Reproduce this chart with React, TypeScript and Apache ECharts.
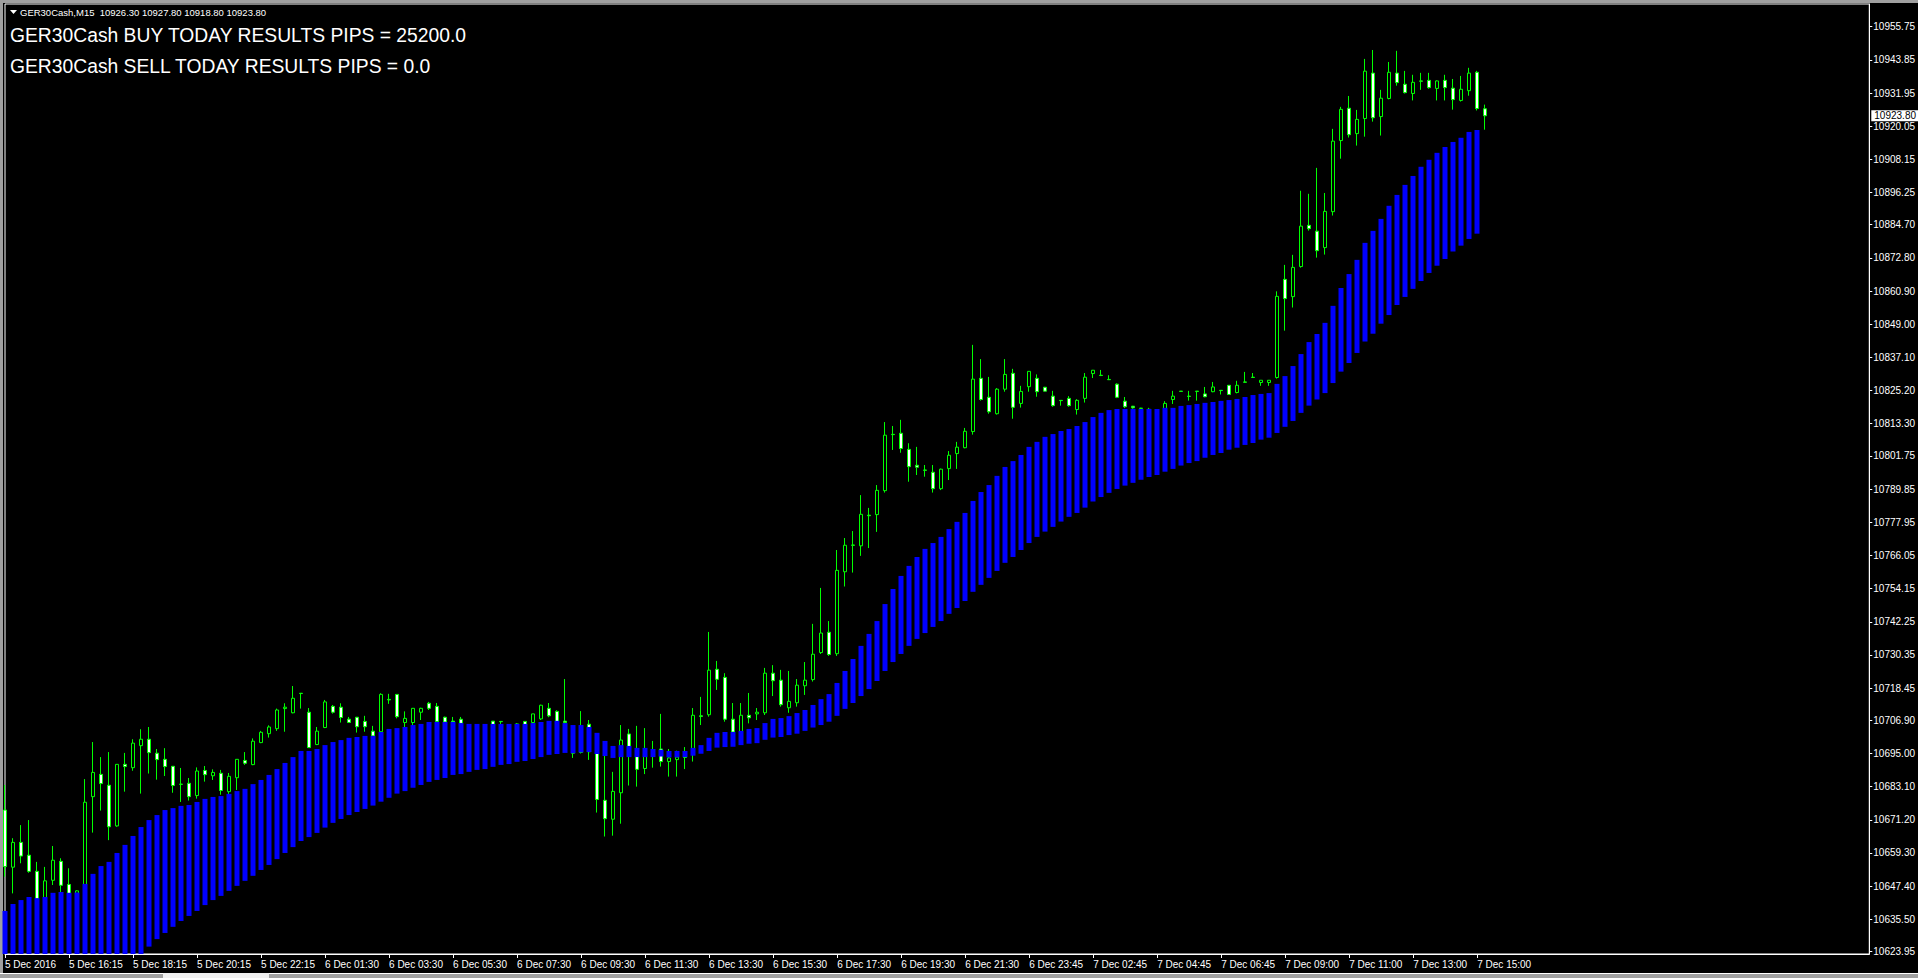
import React, { useEffect, useRef } from "react";
import * as echarts from "echarts";

const SYMBOL = "GER30Cash,M15";
const HEADER_OHLC = ["10926.30", "10927.80", "10918.80", "10923.80"];
const TITLE_BUY = "GER30Cash BUY TODAY RESULTS PIPS = 25200.0";
const TITLE_SELL = "GER30Cash SELL TODAY RESULTS PIPS = 0.0";
const CURRENT_PRICE = 10923.8;

const X_TICK_LABELS = [
  "5 Dec 2016", "5 Dec 16:15", "5 Dec 18:15", "5 Dec 20:15", "5 Dec 22:15",
  "6 Dec 01:30", "6 Dec 03:30", "6 Dec 05:30", "6 Dec 07:30", "6 Dec 09:30",
  "6 Dec 11:30", "6 Dec 13:30", "6 Dec 15:30", "6 Dec 17:30", "6 Dec 19:30",
  "6 Dec 21:30", "6 Dec 23:45", "7 Dec 02:45", "7 Dec 04:45", "7 Dec 06:45",
  "7 Dec 09:00", "7 Dec 11:00", "7 Dec 13:00", "7 Dec 15:00",
];
const BARS_PER_LABEL = 8;
const TOTAL_SLOTS = 234;

const Y_TICKS = [
  10955.75, 10943.85, 10931.95, 10920.05, 10908.15, 10896.25, 10884.7, 10872.8,
  10860.9, 10849.0, 10837.1, 10825.2, 10813.3, 10801.75, 10789.85, 10777.95,
  10766.05, 10754.15, 10742.25, 10730.35, 10718.45, 10706.9, 10695.0, 10683.1,
  10671.2, 10659.3, 10647.4, 10635.5, 10623.95,
];
const Y_MIN = 10623.05;
const Y_MAX = 10963.9;

const OPEN = [
  10674.7, 10654.2, 10663.1, 10658.5, 10652.7, 10640.0, 10649.5, 10656.3, 10648.0, 10644.8,
  10644.8, 10679.5, 10687.5, 10683.6, 10669.0, 10691.1, 10689.9, 10697.8, 10700.1, 10695.1,
  10692.9, 10690.4, 10683.9, 10684.3, 10679.9, 10688.9, 10687.0, 10687.9, 10681.3, 10686.3,
  10692.5, 10691.0, 10698.9, 10702.1, 10703.9, 10711.1, 10709.6, 10716.6, 10709.8, 10698.2,
  10704.3, 10711.9, 10711.6, 10707.3, 10708.0, 10706.5, 10703.0, 10702.8, 10714.4, 10716.2,
  10706.1, 10706.1, 10709.8, 10713.0, 10711.9, 10708.0, 10706.6, 10707.3, 10705.2, 10703.5,
  10704.2, 10706.6, 10706.5, 10704.8, 10705.2, 10706.5, 10706.1, 10707.4, 10711.2, 10710.1,
  10706.6, 10699.8, 10701.0, 10705.5, 10699.8, 10678.2, 10671.4, 10680.9, 10702.0, 10695.1,
  10689.6, 10694.0, 10696.6, 10692.1, 10692.8, 10693.7, 10695.1, 10708.5, 10708.9, 10725.2,
  10722.3, 10707.3, 10701.0, 10708.7, 10709.2, 10709.6, 10723.8, 10721.3, 10711.4, 10713.2,
  10719.3, 10721.5, 10731.2, 10738.5, 10730.8, 10760.2, 10769.8, 10769.5, 10780.5, 10780.7,
  10789.3, 10809.5, 10809.9, 10804.1, 10798.4, 10796.7, 10795.9, 10790.0, 10797.2, 10802.6,
  10804.7, 10810.5, 10829.6, 10822.8, 10816.9, 10825.7, 10831.4, 10820.6, 10826.6, 10829.6,
  10826.4, 10823.2, 10821.7, 10822.4, 10818.4, 10822.4, 10831.3, 10830.7, 10829.2, 10827.5,
  10821.4, 10819.6, 10818.9, 10818.0, 10818.2, 10818.7, 10822.0, 10825.0, 10823.2, 10825.0,
  10824.0, 10824.8, 10825.3, 10827.1, 10824.5, 10828.3, 10830.0, 10828.1, 10828.1, 10829.9,
  10865.1, 10858.9, 10869.7, 10884.5, 10882.4, 10876.5, 10889.4, 10914.9, 10926.5, 10917.4,
  10922.8, 10939.1, 10923.5, 10930.0, 10939.1, 10935.1, 10931.8, 10936.3, 10936.5, 10933.6,
  10936.5, 10933.7, 10929.3, 10932.8, 10939.4, 10926.3,
];
const HIGH = [
  10683.7, 10664.6, 10669.3, 10671.1, 10656.1, 10654.3, 10661.8, 10657.4, 10653.8, 10645.9,
  10685.8, 10699.1, 10693.7, 10695.5, 10691.2, 10695.2, 10700.1, 10703.7, 10704.5, 10696.6,
  10696.9, 10690.5, 10689.8, 10686.2, 10690.0, 10690.5, 10689.3, 10689.1, 10688.0, 10693.0,
  10695.5, 10700.4, 10703.1, 10705.1, 10711.1, 10713.0, 10719.2, 10716.7, 10711.3, 10704.5,
  10714.2, 10712.4, 10713.0, 10708.1, 10708.1, 10708.5, 10704.9, 10716.6, 10716.4, 10716.3,
  10710.1, 10711.3, 10711.4, 10713.5, 10713.1, 10708.2, 10708.1, 10708.1, 10705.4, 10705.0,
  10705.2, 10706.6, 10706.5, 10705.5, 10705.9, 10706.5, 10709.2, 10712.5, 10713.1, 10710.5,
  10721.7, 10703.4, 10710.2, 10707.0, 10701.6, 10694.1, 10688.4, 10705.2, 10703.8, 10704.9,
  10704.1, 10699.5, 10709.2, 10696.6, 10696.0, 10697.3, 10711.3, 10715.3, 10738.6, 10728.2,
  10723.8, 10713.1, 10713.1, 10716.7, 10711.3, 10725.7, 10726.7, 10725.0, 10724.6, 10721.7,
  10727.8, 10741.5, 10754.4, 10742.5, 10768.0, 10772.3, 10774.8, 10787.7, 10783.1, 10791.3,
  10813.9, 10812.5, 10814.7, 10806.3, 10805.0, 10798.5, 10798.5, 10797.2, 10803.5, 10806.8,
  10811.8, 10841.6, 10836.5, 10830.1, 10826.1, 10836.5, 10833.0, 10826.9, 10832.2, 10831.0,
  10826.5, 10825.1, 10821.8, 10823.2, 10822.1, 10831.5, 10832.6, 10832.6, 10830.7, 10827.8,
  10822.9, 10819.7, 10819.0, 10819.0, 10818.4, 10821.4, 10825.1, 10825.0, 10825.1, 10825.0,
  10826.5, 10828.3, 10825.3, 10827.1, 10828.7, 10831.9, 10831.5, 10828.9, 10828.9, 10860.8,
  10870.3, 10873.9, 10896.9, 10895.8, 10905.1, 10896.1, 10919.1, 10927.0, 10930.9, 10925.9,
  10944.2, 10947.4, 10933.1, 10943.1, 10947.1, 10939.9, 10938.5, 10939.2, 10939.2, 10936.5,
  10938.5, 10937.0, 10938.1, 10941.0, 10939.9, 10927.8,
];
const LOW = [
  10650.8, 10644.8, 10655.6, 10652.2, 10638.8, 10637.6, 10647.8, 10645.3, 10642.4, 10643.0,
  10642.4, 10666.6, 10674.5, 10663.9, 10668.7, 10681.3, 10688.8, 10680.6, 10687.8, 10685.6,
  10686.9, 10680.9, 10677.6, 10678.1, 10678.8, 10684.9, 10685.5, 10680.2, 10680.5, 10681.9,
  10690.9, 10690.8, 10698.7, 10700.7, 10703.1, 10702.8, 10709.4, 10711.1, 10697.0, 10698.0,
  10704.1, 10709.3, 10706.1, 10706.0, 10702.5, 10702.8, 10700.4, 10702.2, 10712.8, 10707.6,
  10704.5, 10705.2, 10707.0, 10710.6, 10705.8, 10704.6, 10705.2, 10704.4, 10702.0, 10702.2,
  10701.8, 10704.0, 10704.9, 10703.5, 10704.0, 10704.4, 10705.6, 10707.0, 10708.0, 10705.8,
  10704.6, 10693.4, 10695.0, 10692.7, 10673.8, 10665.2, 10665.5, 10669.8, 10683.5, 10683.1,
  10687.6, 10689.9, 10690.3, 10686.7, 10686.7, 10689.4, 10692.1, 10705.2, 10708.2, 10717.8,
  10706.4, 10701.6, 10699.8, 10705.8, 10707.0, 10708.8, 10715.6, 10711.8, 10709.6, 10711.8,
  10716.0, 10720.8, 10730.7, 10730.0, 10730.0, 10754.9, 10759.9, 10765.9, 10768.7, 10774.5,
  10788.6, 10803.9, 10802.9, 10792.5, 10794.9, 10794.3, 10788.6, 10789.5, 10793.1, 10797.1,
  10804.5, 10809.4, 10821.6, 10816.9, 10816.6, 10824.8, 10815.1, 10819.1, 10824.8, 10823.0,
  10824.9, 10819.4, 10819.8, 10819.4, 10816.6, 10820.9, 10829.7, 10830.4, 10829.0, 10822.5,
  10818.9, 10818.7, 10817.5, 10817.0, 10816.5, 10818.5, 10820.4, 10824.7, 10821.6, 10821.6,
  10822.8, 10824.6, 10823.8, 10823.8, 10824.2, 10828.1, 10829.9, 10826.9, 10826.9, 10829.5,
  10846.7, 10855.0, 10869.3, 10882.6, 10872.9, 10874.0, 10888.0, 10908.4, 10916.0, 10913.1,
  10916.3, 10921.7, 10916.7, 10929.7, 10934.6, 10931.8, 10929.3, 10933.1, 10933.5, 10929.3,
  10929.3, 10926.0, 10928.9, 10931.0, 10925.7, 10918.8,
];
const CLOSE = [
  10654.4, 10663.1, 10658.2, 10652.7, 10641.8, 10649.3, 10656.7, 10647.7, 10644.8, 10645.7,
  10677.5, 10688.2, 10684.2, 10668.7, 10691.1, 10690.3, 10698.7, 10700.1, 10695.3, 10692.8,
  10690.3, 10683.5, 10684.0, 10679.5, 10688.7, 10687.4, 10688.2, 10681.7, 10686.8, 10692.9,
  10691.5, 10699.4, 10702.6, 10704.5, 10710.6, 10711.6, 10714.8, 10716.5, 10697.1, 10703.0,
  10713.5, 10709.8, 10707.9, 10706.1, 10704.6, 10704.6, 10701.3, 10716.2, 10714.2, 10708.2,
  10707.6, 10711.2, 10711.2, 10711.2, 10706.5, 10706.3, 10706.3, 10705.8, 10703.5, 10704.2,
  10703.0, 10704.9, 10706.4, 10705.2, 10705.6, 10704.9, 10709.2, 10712.3, 10708.5, 10706.5,
  10706.1, 10695.1, 10695.4, 10695.6, 10678.5, 10671.6, 10681.4, 10699.8, 10696.3, 10689.3,
  10693.9, 10695.5, 10692.1, 10693.4, 10693.7, 10693.6, 10708.7, 10708.3, 10724.9, 10721.6,
  10707.3, 10702.7, 10708.7, 10707.8, 10709.8, 10723.8, 10721.1, 10712.5, 10713.7, 10719.5,
  10721.3, 10730.6, 10738.2, 10730.5, 10760.7, 10769.7, 10769.7, 10780.8, 10780.3, 10789.4,
  10809.2, 10809.4, 10804.4, 10797.9, 10797.7, 10796.6, 10790.0, 10797.0, 10802.0, 10804.9,
  10810.6, 10829.3, 10822.0, 10817.6, 10825.7, 10831.0, 10819.2, 10824.9, 10832.1, 10824.8,
  10825.0, 10819.8, 10821.6, 10819.8, 10821.7, 10830.0, 10832.5, 10830.6, 10829.1, 10822.8,
  10819.4, 10819.0, 10818.8, 10818.5, 10817.6, 10820.6, 10823.2, 10824.9, 10823.1, 10824.9,
  10823.0, 10826.5, 10825.2, 10823.8, 10827.1, 10828.2, 10829.9, 10828.9, 10828.9, 10859.0,
  10858.2, 10869.4, 10884.2, 10883.3, 10875.4, 10889.5, 10914.7, 10926.1, 10917.0, 10922.5,
  10939.8, 10923.1, 10930.1, 10939.4, 10935.7, 10932.1, 10935.8, 10936.2, 10933.9, 10936.3,
  10933.9, 10929.6, 10933.3, 10939.1, 10926.4, 10923.8,
];
const BAND_HI = [
  10638.5, 10641.0, 10642.4, 10643.5, 10643.1, 10643.5, 10645.0, 10645.3, 10645.0, 10645.1,
  10648.2, 10651.8, 10654.6, 10656.1, 10659.3, 10662.2, 10665.4, 10668.6, 10671.1, 10672.9,
  10674.7, 10675.4, 10676.2, 10676.5, 10677.6, 10678.7, 10679.4, 10679.7, 10680.5, 10681.5,
  10682.3, 10684.0, 10685.5, 10687.3, 10689.4, 10691.6, 10693.7, 10695.9, 10695.9, 10696.6,
  10698.0, 10699.1, 10699.8, 10700.6, 10700.9, 10701.3, 10701.3, 10702.7, 10703.8, 10704.1,
  10704.5, 10705.2, 10705.6, 10706.3, 10706.3, 10706.3, 10706.3, 10705.9, 10705.6, 10705.6,
  10705.6, 10705.6, 10705.6, 10705.6, 10705.6, 10705.6, 10705.9, 10706.3, 10706.7, 10706.7,
  10705.9, 10705.2, 10705.2, 10704.5, 10702.4, 10699.5, 10697.7, 10698.0, 10697.7, 10697.0,
  10697.0, 10696.6, 10696.3, 10695.9, 10695.9, 10695.9, 10697.0, 10698.0, 10700.6, 10702.4,
  10702.7, 10702.7, 10703.1, 10703.8, 10704.1, 10705.9, 10707.4, 10707.7, 10708.4, 10709.5,
  10710.6, 10712.4, 10714.5, 10716.3, 10720.3, 10724.6, 10728.9, 10733.6, 10737.9, 10742.5,
  10748.6, 10754.0, 10758.7, 10762.3, 10765.5, 10768.4, 10770.5, 10772.7, 10775.5, 10778.1,
  10781.3, 10785.6, 10788.8, 10791.3, 10794.6, 10797.8, 10799.9, 10802.1, 10805.0, 10806.8,
  10808.6, 10809.6, 10810.7, 10811.4, 10812.5, 10813.9, 10815.7, 10817.2, 10818.2, 10818.6,
  10818.6, 10818.6, 10818.6, 10818.6, 10818.6, 10819.0, 10819.0, 10819.7, 10820.0, 10820.4,
  10820.8, 10821.1, 10821.5, 10821.8, 10822.2, 10822.9, 10823.6, 10824.0, 10824.3, 10827.6,
  10830.4, 10834.0, 10838.3, 10842.6, 10845.5, 10849.5, 10855.6, 10862.0, 10867.0, 10872.1,
  10878.2, 10882.5, 10886.8, 10891.5, 10895.4, 10899.0, 10902.2, 10905.5, 10908.0, 10910.5,
  10912.6, 10914.4, 10915.9, 10918.0, 10918.7, null,
];
const BAND_LO = [
  10596.0, 10599.0, 10601.0, 10603.0, 10604.0, 10606.0, 10608.0, 10609.0, 10611.0, 10612.0,
  10614.0, 10615.0, 10617.0, 10618.0, 10619.0, 10620.0, 10621.0, 10622.0, 10625.7, 10628.4,
  10630.6, 10632.8, 10634.9, 10636.7, 10638.5, 10640.6, 10642.4, 10643.9, 10645.7, 10647.5,
  10649.3, 10651.1, 10653.2, 10655.0, 10657.1, 10659.3, 10661.4, 10663.6, 10665.0, 10666.5,
  10668.4, 10670.1, 10671.5, 10672.9, 10674.0, 10675.1, 10676.3, 10677.7, 10679.1, 10680.6,
  10681.5, 10682.7, 10683.7, 10684.8, 10685.5, 10686.2, 10687.3, 10687.6, 10688.4, 10689.1,
  10689.4, 10690.2, 10690.9, 10691.2, 10692.0, 10692.3, 10693.0, 10693.7, 10694.5, 10694.8,
  10695.2, 10695.1, 10695.4, 10695.5, 10694.8, 10694.1, 10693.4, 10693.7, 10693.7, 10693.7,
  10693.7, 10693.7, 10693.9, 10693.6, 10693.6, 10693.7, 10694.2, 10694.9, 10695.9, 10697.1,
  10697.3, 10697.4, 10698.0, 10698.5, 10698.7, 10699.9, 10700.7, 10700.9, 10701.6, 10702.1,
  10703.1, 10704.3, 10705.2, 10706.4, 10708.5, 10711.0, 10713.1, 10715.6, 10718.1, 10721.0,
  10724.6, 10727.8, 10730.7, 10733.6, 10736.1, 10738.2, 10740.4, 10742.5, 10745.1, 10747.2,
  10749.7, 10753.0, 10755.5, 10758.0, 10760.5, 10763.4, 10765.5, 10768.0, 10770.5, 10772.7,
  10774.6, 10776.3, 10778.2, 10779.9, 10781.3, 10783.2, 10785.4, 10787.0, 10788.5, 10789.9,
  10791.1, 10792.1, 10793.2, 10794.2, 10794.9, 10796.1, 10797.1, 10798.3, 10799.2, 10799.9,
  10801.1, 10802.1, 10802.8, 10804.0, 10804.7, 10805.7, 10806.4, 10807.6, 10808.3, 10810.0,
  10812.2, 10814.3, 10817.2, 10819.8, 10822.0, 10824.3, 10827.9, 10832.0, 10835.1, 10838.7,
  10842.8, 10845.6, 10849.2, 10852.3, 10855.9, 10858.8, 10861.7, 10864.5, 10867.4, 10870.0,
  10872.4, 10875.1, 10877.2, 10879.6, 10881.5, null,
];

const FONT = "'Liberation Sans', Arial, sans-serif";

export default function App() {
  const ref = useRef<HTMLDivElement>(null);

  useEffect(() => {
    document.body.style.margin = "0";
    document.body.style.background = "#000";
    if (!ref.current) return;
    const chart = echarts.init(ref.current, null, { renderer: "svg" });

    const categories = Array.from({ length: TOTAL_SLOTS }, (_, i) => String(i));
    const candles = OPEN.map((o, i) => [o, CLOSE[i], LOW[i], HIGH[i]]);
    // the band continues below the visible price range; cut it at the axis minimum
    const band = BAND_HI.map((h, i) => {
      if (h == null || BAND_LO[i] == null) return "-";
      const lo = Math.max(BAND_LO[i] as number, Y_MIN);
      return [lo, h, lo, h];
    });
    const showTick = (index: number) =>
      index % BARS_PER_LABEL === 0 && index / BARS_PER_LABEL < X_TICK_LABELS.length;

    chart.setOption({
      animation: false,
      backgroundColor: "#000",
      textStyle: { fontFamily: FONT },
      title: [
        {
          text: SYMBOL + "  " + HEADER_OHLC.join(" "),
          left: 20,
          top: 7,
          padding: 0,
          textStyle: { color: "#fff", fontSize: 9.5, fontWeight: "normal", fontFamily: FONT },
        },
        {
          text: TITLE_BUY,
          left: 10,
          top: 26,
          padding: 0,
          textStyle: { color: "#fff", fontSize: 19.3, fontWeight: "normal", fontFamily: FONT },
        },
        {
          text: TITLE_SELL,
          left: 10,
          top: 57,
          padding: 0,
          textStyle: { color: "#fff", fontSize: 19.3, fontWeight: "normal", fontFamily: FONT },
        },
      ],
      graphic: [
        { type: "rect", left: 0, top: 0, shape: { width: 1918, height: 3 }, style: { fill: "#a0a0a0" }, silent: true },
        { type: "rect", left: 0, top: 0, shape: { width: 3, height: 978 }, style: { fill: "#a0a0a0" }, silent: true },
        { type: "rect", left: 0, top: 973, shape: { width: 1918, height: 1 }, style: { fill: "#ffffff" }, silent: true },
        { type: "rect", left: 0, top: 974, shape: { width: 1918, height: 4 }, style: { fill: "#a0a0a0" }, silent: true },
        { type: "rect", left: 163, top: 973, shape: { width: 106, height: 5 }, style: { fill: "#f0f0f0" }, silent: true },
        {
          type: "polygon",
          shape: { points: [[10, 10], [17, 10], [13.5, 14]] },
          style: { fill: "#fff" },
          silent: true,
        },
      ],
      grid: {
        left: 5,
        top: 4,
        width: 1865,
        height: 950,
        show: true,
        borderColor: "#fff",
        borderWidth: 1,
        backgroundColor: "#000",
      },
      xAxis: {
        type: "category",
        data: categories,
        boundaryGap: false,
        axisLine: { show: true, lineStyle: { color: "#fff", width: 1 } },
        axisTick: { show: true, interval: showTick, length: 4, lineStyle: { color: "#fff" } },
        axisLabel: {
          interval: showTick,
          formatter: (_v: string, i: number) => X_TICK_LABELS[i / BARS_PER_LABEL] ?? "",
          color: "#fff",
          fontSize: 10,
          fontFamily: FONT,
          align: "left",
          margin: 5,
          hideOverlap: false,
        },
        splitLine: { show: false },
      },
      yAxis: {
        type: "value",
        position: "right",
        min: Y_MIN,
        max: Y_MAX,
        axisLine: { show: true, lineStyle: { color: "#fff" } },
        axisTick: { show: true, customValues: Y_TICKS, length: 3, lineStyle: { color: "#fff" } },
        axisLabel: {
          customValues: Y_TICKS,
          formatter: (v: number) => v.toFixed(2),
          color: "#fff",
          fontSize: 10,
          fontFamily: FONT,
          margin: 4,
        },
        splitLine: { show: false },
      },
      series: [
        {
          name: "price",
          type: "candlestick",
          data: candles,
          barWidth: 4,
          clip: true,
          itemStyle: {
            color: "#000000",
            color0: "#ffffff",
            borderColor: "#00ff00",
            borderColor0: "#00ff00",
            borderColorDoji: "#00ff00",
            borderWidth: 1,
          },
        },
        {
          name: "band",
          type: "candlestick",
          data: band,
          barWidth: 5,
          clip: true,
          itemStyle: {
            color: "#0000ff",
            color0: "#0000ff",
            borderColor: "#0000ff",
            borderColor0: "#0000ff",
            borderColorDoji: "#0000ff",
            borderWidth: 0,
          },
        },
        {
          name: "bid",
          type: "line",
          data: [],
          clip: false,
          silent: true,
          z: 10,
          markLine: {
            silent: true,
            symbol: ["none", "none"],
            data: [{ yAxis: CURRENT_PRICE }],
            lineStyle: { color: "rgba(0,0,0,0)", width: 1, type: "solid" },
            label: {
              show: true,
              position: "end",
              distance: 2,
              formatter: CURRENT_PRICE.toFixed(2),
              color: "#000",
              backgroundColor: "#fff",
              fontSize: 10,
              fontFamily: FONT,
              padding: [1, 8, 0, 3],
            },
          },
        },
      ],
    });

    return () => chart.dispose();
  }, []);

  return (
    <div
      ref={ref}
      style={{ position: "fixed", left: 0, top: 0, width: 1918, height: 978, background: "#000" }}
    />
  );
}
